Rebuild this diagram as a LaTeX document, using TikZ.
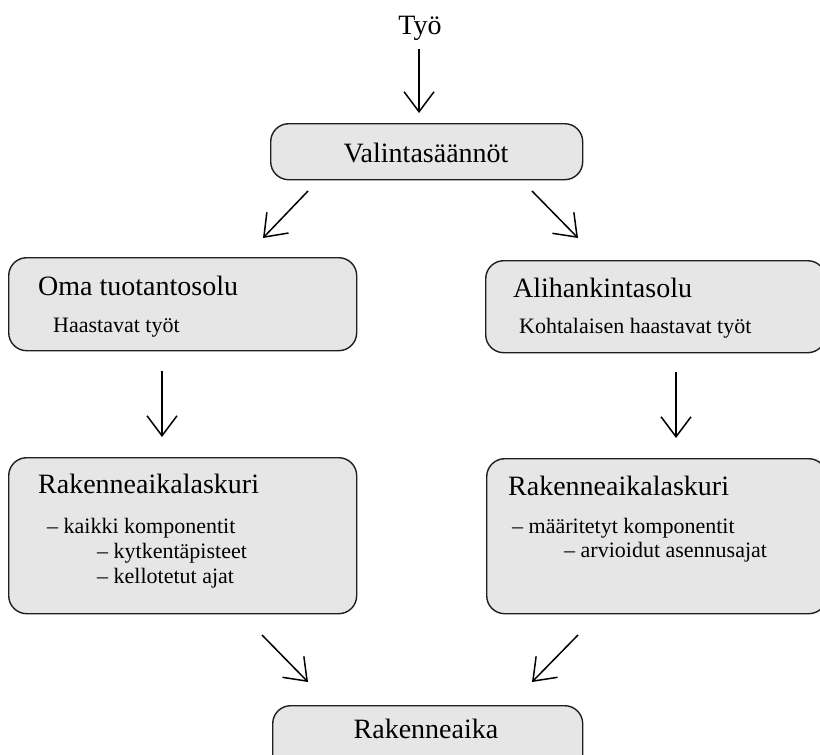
\documentclass[tikz,border=0pt]{standalone}
\usepackage{fontspec}
\setmainfont{Liberation Serif}
\usetikzlibrary{arrows.meta}
\definecolor{boxfill}{HTML}{E6E6E6}
\definecolor{boxline}{HTML}{1E1E1E}
\begin{document}
\begin{tikzpicture}[x=1pt,y=-1pt,
  box/.style={draw=boxline, line width=1.4pt, fill=boxfill, rounded corners=18pt, anchor=north west, inner sep=0pt},
  bigtxt/.style={font=\fontsize{28}{30}\selectfont, inner sep=0pt, anchor=base west},
  smalltxt/.style={font=\fontsize{22}{24}\selectfont, inner sep=0pt, anchor=base west},
  arr/.style={line width=1.5pt, -{Straight Barb[length=20pt,width=30pt,line width=1.5pt]}}
]
\useasboundingbox (0,0) rectangle (820,755);
\clip (0,0) rectangle (820,755);

% boxes
\node[box, minimum width=312pt, minimum height=56pt] (val) at (270,123) {};
\node[box, minimum width=348pt, minimum height=93pt] (oma) at (8,257) {};
\node[box, minimum width=340pt, minimum height=92pt] (ali) at (485,260) {};
\node[box, minimum width=348pt, minimum height=156pt] (rl) at (8,457) {};
\node[box, minimum width=340pt, minimum height=155pt] (rr) at (486,458) {};
\node[box, minimum width=310pt, minimum height=80pt] (rak) at (272,705) {};

% texts
\node[bigtxt, anchor=base] (tyo) at (420,34) {Työ};
\node[bigtxt, anchor=base] (valt) at (426,162) {Valintasäännöt};
\node[bigtxt] (omat) at (38,295) {Oma tuotantosolu};
\node[smalltxt] (omas) at (53,332) {Haastavat työt};
\node[bigtxt] (alit) at (513,297) {Alihankintasolu};
\node[smalltxt] (alis) at (519,333) {Kohtalaisen haastavat työt};
\node[bigtxt] (rlt) at (38,493) {Rakenneaikalaskuri};
\node[smalltxt] (rl1) at (47,533) {– kaikki komponentit};
\node[smalltxt] (rl2) at (97,558) {– kytkentäpisteet};
\node[smalltxt] (rl3) at (97,583) {– kellotetut ajat};
\node[bigtxt] (rrt) at (508,495) {Rakenneaikalaskuri};
\node[smalltxt] (rr1) at (512,533) {– määritetyt komponentit};
\node[smalltxt] (rr2) at (564,557) {– arvioidut asennusajat};
\node[bigtxt, anchor=base] (rakt) at (426,738) {Rakenneaika};

% arrow end points
\coordinate (a1s) at (419,49);  \coordinate (a1e) at (419,113);
\coordinate (a2s) at (308,191); \coordinate (a2e) at (263,238);
\coordinate (a3s) at (532,191); \coordinate (a3e) at (578,238);
\coordinate (a4s) at (162,371); \coordinate (a4e) at (162,437);
\coordinate (a5s) at (676,372); \coordinate (a5e) at (676,438);
\coordinate (a6s) at (262,635); \coordinate (a6e) at (308,682);
\coordinate (a7s) at (578,635); \coordinate (a7e) at (532,682);

\draw[arr] (a1s) -- (a1e);
\draw[arr] (a2s) -- (a2e);
\draw[arr] (a3s) -- (a3e);
\draw[arr] (a4s) -- (a4e);
\draw[arr] (a5s) -- (a5e);
\draw[arr] (a6s) -- (a6e);
\draw[arr] (a7s) -- (a7e);
\end{tikzpicture}
\end{document}
